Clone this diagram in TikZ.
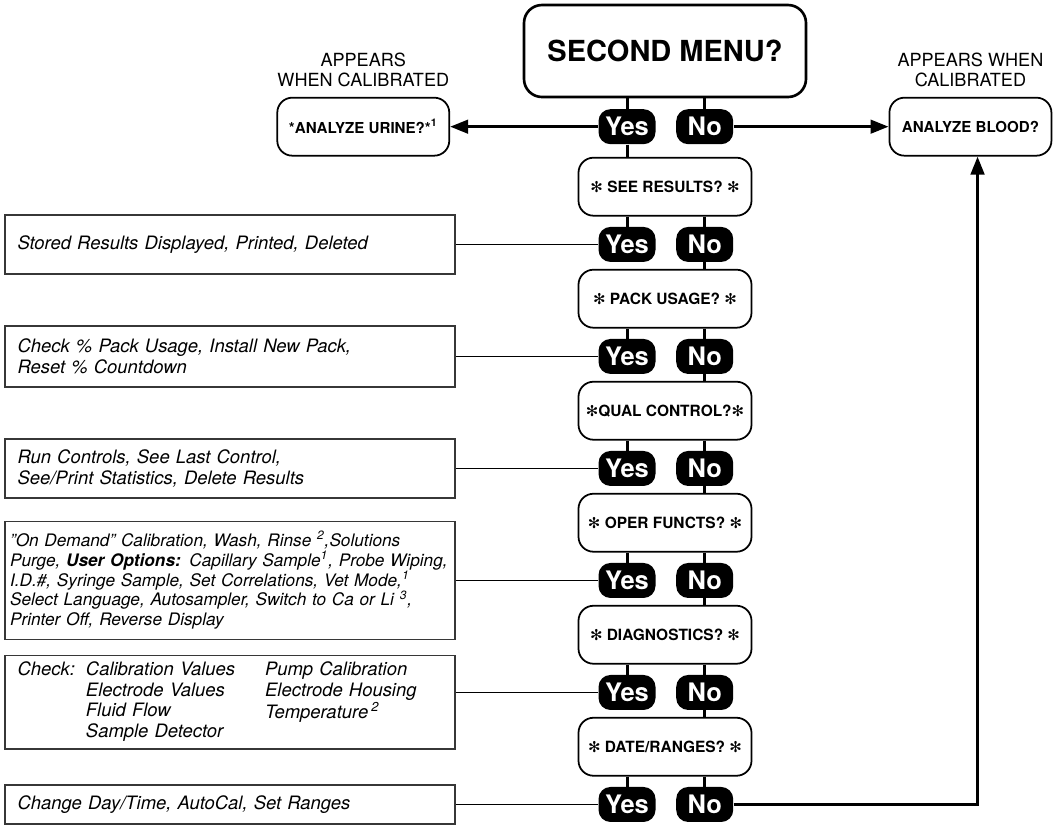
\documentclass[tikz,border=0pt]{standalone}
\usepackage{fontspec}
\setmainfont{TeX Gyre Heros}
\newfontfamily\dingfont{DejaVu Sans}
\definecolor{descGray}{RGB}{55,55,55}
\usetikzlibrary{arrows.meta,positioning}
\newcommand{\spk}{{\dingfont\fontsize{8.5}{9}\selectfont ✻}}

\begin{document}
\begin{tikzpicture}[
  menu/.style={draw, line width=1pt, rounded corners=0.3cm, minimum width=3.46cm,
               minimum height=1.16cm, inner sep=0pt, align=center,
               font=\fontsize{8.8}{10}\selectfont\bfseries},
  side/.style={draw, line width=1pt, rounded corners=0.3cm, minimum height=1.16cm,
               inner sep=0pt, align=center, font=\fontsize{8.6}{10}\selectfont\bfseries},
  pill/.style={fill=black, text=white, rounded corners=0.24cm, minimum width=1.14cm,
               minimum height=0.7cm, inner sep=0pt,
               font=\fontsize{14.5}{15}\selectfont\bfseries},
  desc/.style={draw=descGray, line width=0.7pt, text width=8.5cm, inner xsep=0.25cm,
               align=left, font=\fontsize{10.5}{11.6}\selectfont\itshape},
  note/.style={inner sep=0pt, align=center, font=\fontsize{10.3}{11.3}\selectfont},
  link/.style={line width=1.7pt},
  feed/.style={line width=0.6pt},
  go/.style={line width=1.7pt, -{Triangle[length=0.36cm, width=0.27cm]}}
]
  \useasboundingbox (0,0) rectangle (21.1,-16.5);

  % top question and its answers
  \node[draw, line width=1.5pt, rounded corners=0.36cm, minimum width=5.64cm,
        minimum height=1.84cm, font=\fontsize{16.5}{18}\selectfont\bfseries]
        (second) at (13.3,-1.02) {SECOND MENU?};
  \node[pill, below=0.21cm of second.south, xshift=-0.76cm] (yes0) {Yes};
  \node[pill, right=0.4cm of yes0]                          (no0)  {No};

  \node[side, minimum width=3.44cm, left=2.96cm of yes0]  (urine) {*ANALYZE URINE?*\textsuperscript{1}};
  \node[side, minimum width=3.24cm, right=3.1cm of no0]   (blood) {ANALYZE BLOOD?};
  \node[note, above=0.2cm of urine] (urineNote) {APPEARS\\WHEN CALIBRATED};
  \node[note, above=0.2cm of blood] (bloodNote) {APPEARS WHEN\\CALIBRATED};

  % menu column
  \node[menu, below=1.17cm of second] (see)   {\spk\ SEE RESULTS? \spk};
  \node[menu, below=1.045cm of see]   (pack)  {\spk\ PACK USAGE? \spk};
  \node[menu, below=1.045cm of pack]  (qual)  {\spk QUAL CONTROL?\spk};
  \node[menu, below=1.045cm of qual]  (oper)  {\spk\ OPER FUNCTS? \spk};
  \node[menu, below=1.045cm of oper]  (diag)  {\spk\ DIAGNOSTICS? \spk};
  \node[menu, below=1.045cm of diag]  (date)  {\spk\ DATE/RANGES? \spk};

  \node[pill, below=0.2cm of see.south, xshift=-0.76cm]  (yes1) {Yes};
  \node[pill, right=0.4cm of yes1]                       (no1)  {No};
  \node[pill, below=0.2cm of pack.south, xshift=-0.76cm] (yes2) {Yes};
  \node[pill, right=0.4cm of yes2]                       (no2)  {No};
  \node[pill, below=0.2cm of qual.south, xshift=-0.76cm] (yes3) {Yes};
  \node[pill, right=0.4cm of yes3]                       (no3)  {No};
  \node[pill, below=0.2cm of oper.south, xshift=-0.76cm] (yes4) {Yes};
  \node[pill, right=0.4cm of yes4]                       (no4)  {No};
  \node[pill, below=0.2cm of diag.south, xshift=-0.76cm] (yes5) {Yes};
  \node[pill, right=0.4cm of yes5]                       (no5)  {No};
  \node[pill, below=0.2cm of date.south, xshift=-0.76cm] (yes6) {Yes};
  \node[pill, right=0.4cm of yes6]                       (no6)  {No};

  % what each Yes leads to
  \node[desc, minimum height=1.18cm, left=2.85cm of yes1] (stored)
    {Stored Results Displayed, Printed, Deleted};
  \node[desc, minimum height=1.22cm, left=2.85cm of yes2] (usage)
    {Check \% Pack Usage, Install New Pack,\\Reset \% Countdown};
  \node[desc, minimum height=1.18cm, left=2.85cm of yes3] (controls)
    {Run Controls, See Last Control,\\See/Print Statistics, Delete Results};
  \node[desc, minimum height=2.36cm, text width=8.8cm, inner xsep=0.1cm,
        font=\fontsize{9.8}{11.3}\selectfont\itshape, left=2.85cm of yes4] (functs)
    {"On Demand" Calibration, Wash, Rinse \textsuperscript{2},Solutions\\
     Purge, \textbf{User Options:} Capillary Sample\textsuperscript{1}, Probe Wiping,\\
     I.D.\#, Syringe Sample, Set Correlations, Vet Mode,\textsuperscript{1}\\
     Select Language, Autosampler, Switch to Ca or Li \textsuperscript{3},\\
     Printer Off, Reverse Display};
  \node[desc, minimum height=1.86cm, left=2.85cm of yes5, yshift=-0.2cm] (checks)
    {Check:\hspace{0.22cm}\begin{tabular}[t]{@{}l@{}}
       Calibration Values\\Electrode Values\\Fluid Flow\\Sample Detector
     \end{tabular}\hspace{0.6cm}\begin{tabular}[t]{@{}l@{}}
       Pump Calibration\\Electrode Housing\\Temperature\,\textsuperscript{2}
     \end{tabular}};
  \node[desc, minimum height=0.78cm, left=2.85cm of yes6] (ranges)
    {Change Day/Time, AutoCal, Set Ranges};

  % connectors
  \draw[link] (second.south -| yes0) -- (yes0);
  \draw[link] (second.south -| no0)  -- (no0);
  \draw[link] (yes0) -- (yes0 |- see.north);
  \draw[go]   (yes0) -- (urine);
  \draw[go]   (no0)  -- (blood);

  \draw[link] (see.south -| yes1)  -- (yes1);
  \draw[link] (see.south -| no1)   -- (no1);
  \draw[link] (no1) -- (no1 |- pack.north);
  \draw[link] (pack.south -| yes2) -- (yes2);
  \draw[link] (pack.south -| no2)  -- (no2);
  \draw[link] (no2) -- (no2 |- qual.north);
  \draw[link] (qual.south -| yes3) -- (yes3);
  \draw[link] (qual.south -| no3)  -- (no3);
  \draw[link] (no3) -- (no3 |- oper.north);
  \draw[link] (oper.south -| yes4) -- (yes4);
  \draw[link] (oper.south -| no4)  -- (no4);
  \draw[link] (no4) -- (no4 |- diag.north);
  \draw[link] (diag.south -| yes5) -- (yes5);
  \draw[link] (diag.south -| no5)  -- (no5);
  \draw[link] (no5) -- (no5 |- date.north);
  \draw[link] (date.south -| yes6) -- (yes6);
  \draw[link] (date.south -| no6)  -- (no6);

  \draw[feed] (yes1) -- (stored);
  \draw[feed] (yes2) -- (usage);
  \draw[feed] (yes3) -- (controls);
  \draw[feed] (yes4) -- (functs);
  \draw[feed] (yes5) -- (yes5 -| checks.east);
  \draw[feed] (yes6) -- (ranges);

  \coordinate[right=4.88cm of no6] (turn);
  \draw[go] (no6) -- (turn) -- (turn |- blood.south);
\end{tikzpicture}
\end{document}
